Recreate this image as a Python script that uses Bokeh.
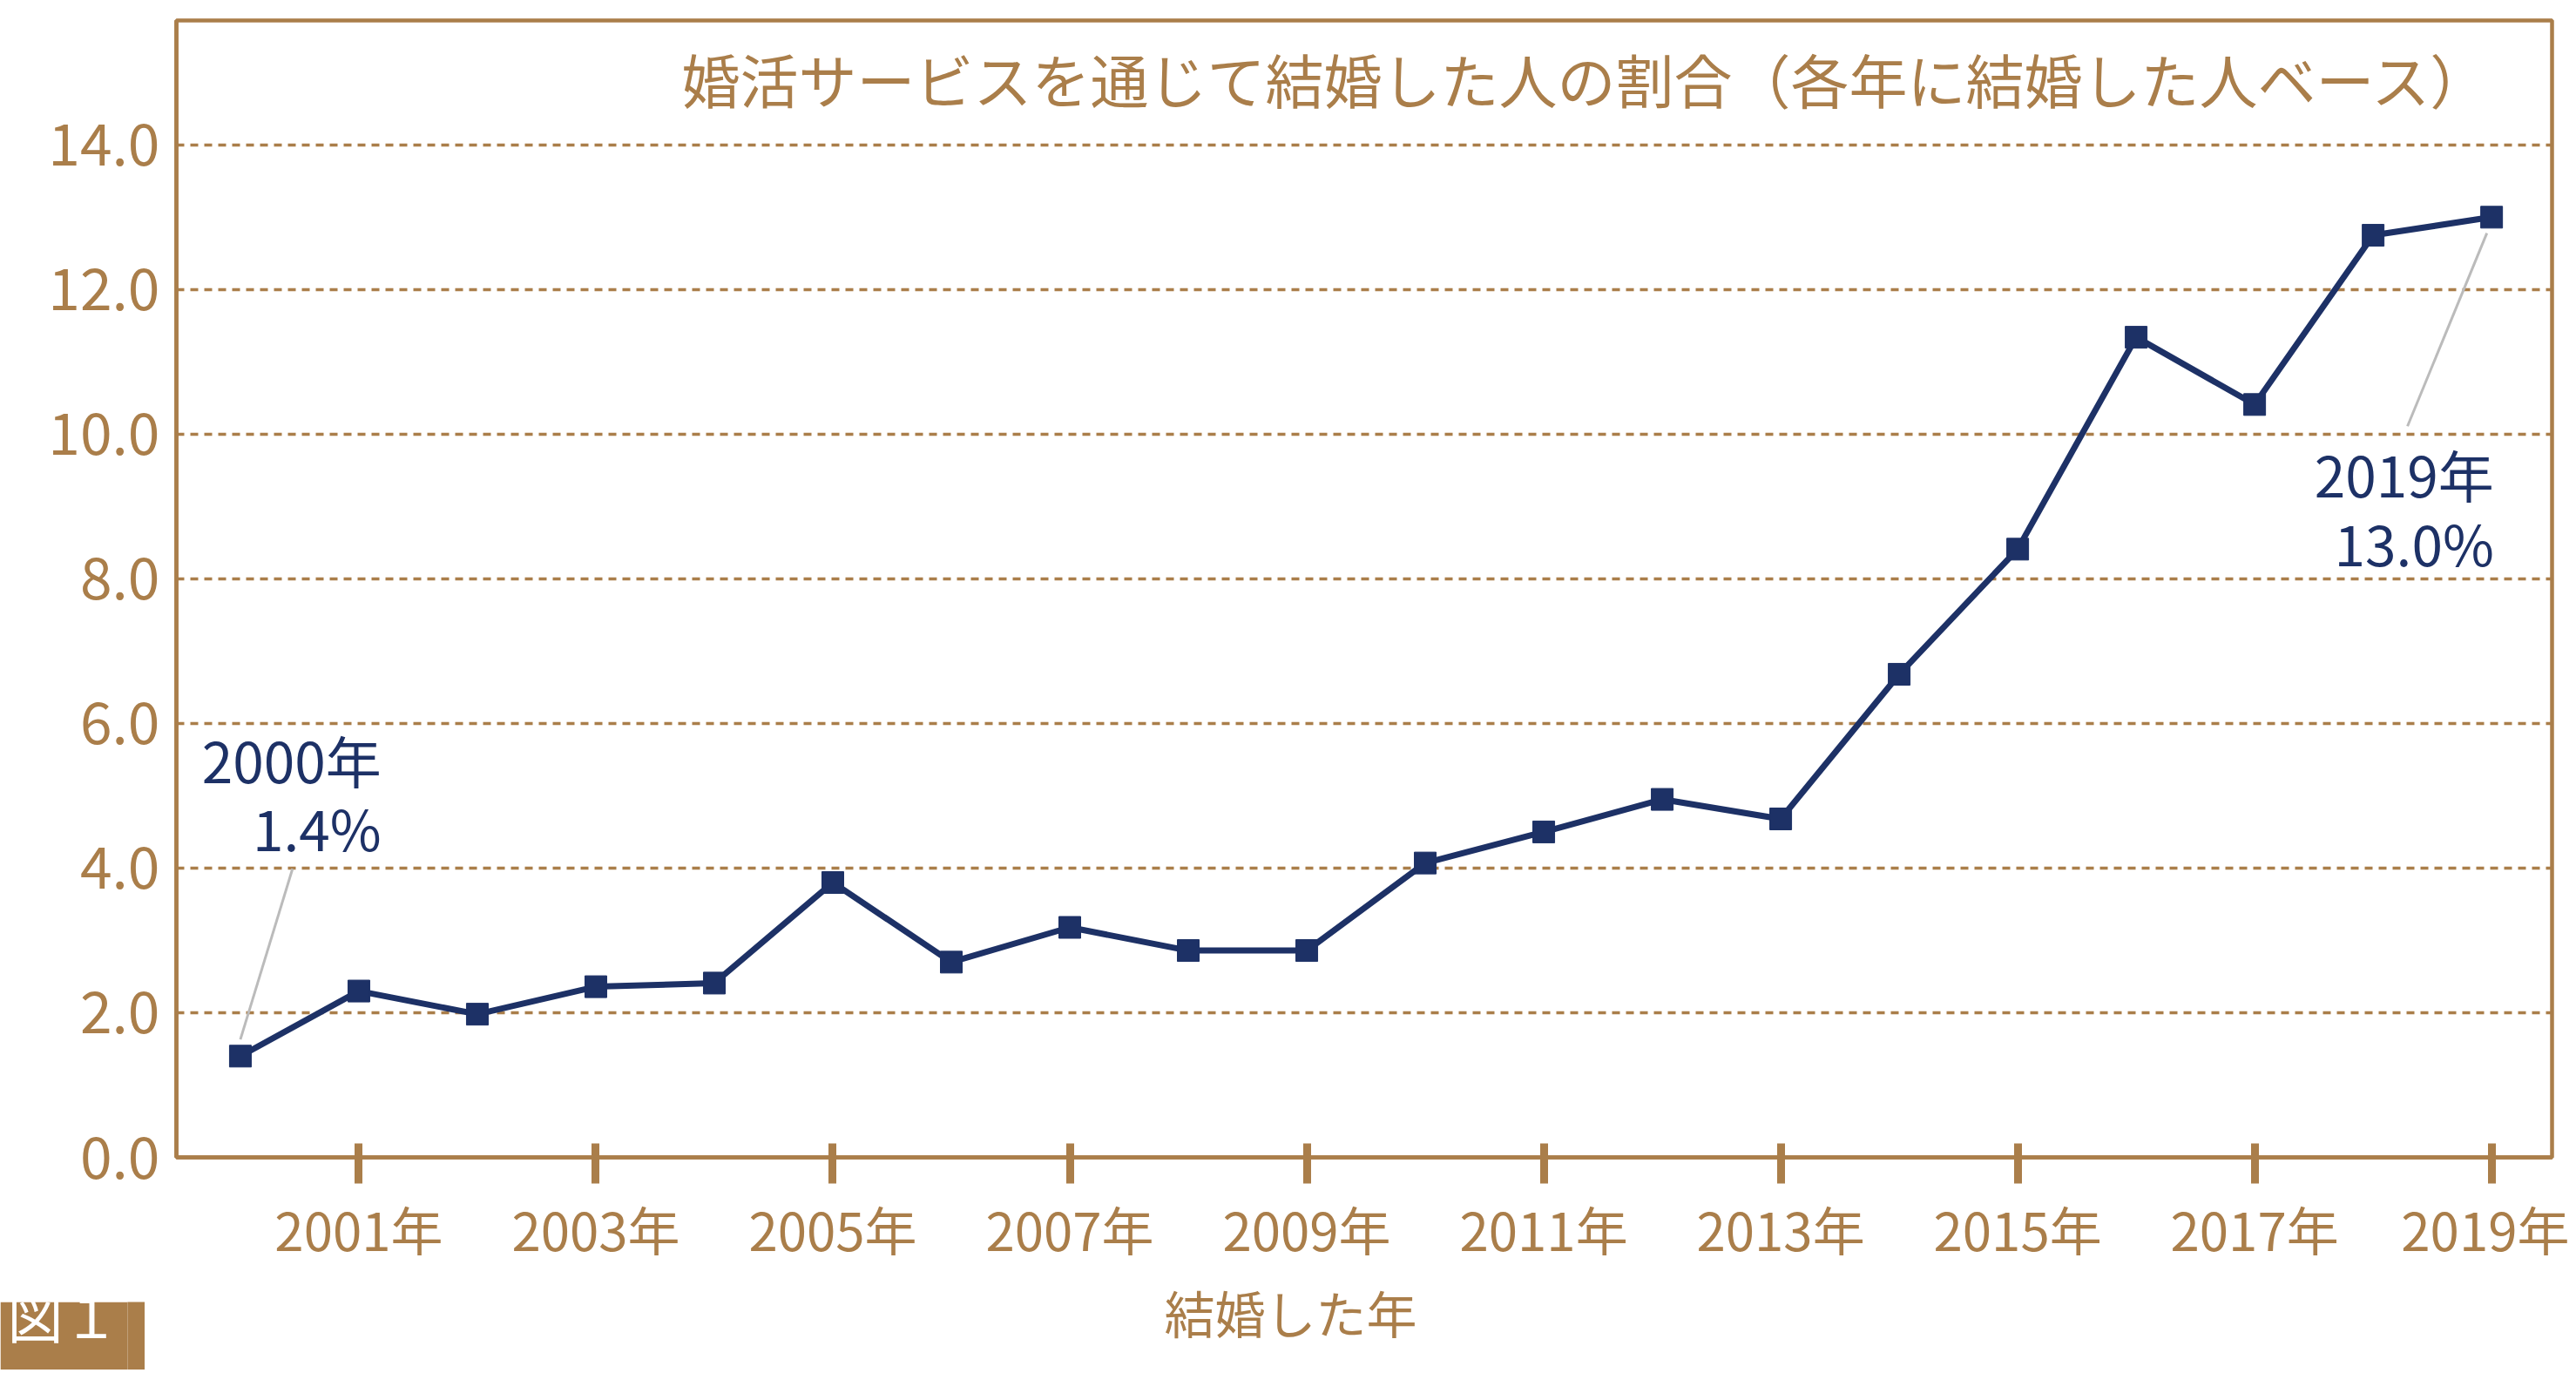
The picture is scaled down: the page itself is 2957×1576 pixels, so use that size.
from bokeh.plotting import figure
from bokeh.models import Range1d, FixedTicker, Label, Title, LinearAxis
from bokeh.layouts import column
from bokeh.core.properties import value
from bokeh.embed import file_html
from bokeh.resources import INLINE

# ---- data ----
years = [2000, 2001, 2002, 2003, 2004, 2005, 2006, 2007, 2008, 2009,
         2010, 2011, 2012, 2013, 2014, 2015, 2016, 2017, 2018, 2019]
shares = [1.4, 2.30, 1.98, 2.36, 2.41, 3.80, 2.70, 3.18, 2.86, 2.86,
          4.07, 4.50, 4.95, 4.68, 6.68, 8.41, 11.34, 10.41, 12.75, 13.0]

x_tick_years = [2001, 2003, 2005, 2007, 2009, 2011, 2013, 2015, 2017, 2019]
x_tick_labels = ["2001年", "2003年", "2005年", "2007年", "2009年",
                 "2011年", "2013年", "2015年", "2017年", "2019年"]
y_ticks = [0, 2, 4, 6, 8, 10, 12, 14]
y_tick_labels = ["0.0", "2.0", "4.0", "6.0", "8.0", "10.0", "12.0", "14.0"]

title_text = "婚活サービスを通じて結婚した人の割合（各年に結婚した人ベース）"
x_axis_title = "結婚した年"
figure_tag = "図１"

ann_years = [2000, 2019]
ann_values = [1.4, 13.0]
ann_year_text = ["2000年", "2019年"]
ann_value_text = ["1.4%", "13.0%"]

# ---- styles ----
BROWN = "#AA7E4A"
NAVY = "#1D3166"
GRAY = "#BBBBBB"
FONT = "Noto Sans CJK JP"

p = figure(frame_width=2727, frame_height=1305,
           min_border_left=202, min_border_right=20,
           min_border_top=23, min_border_bottom=244,
           x_range=Range1d(1999.46, 2019.51), y_range=Range1d(0, 15.72),
           output_backend="svg", toolbar_location=None)

p.background_fill_color = "white"
p.border_fill_color = "white"
p.outline_line_color = BROWN
p.outline_line_width = 4.5
p.outline_line_alpha = 1.0

# x axis
xa = p.xaxis[0]
xa.ticker = FixedTicker(ticks=x_tick_years)
xa.major_label_overrides = {y: t for y, t in zip(x_tick_years, x_tick_labels)}
xa.axis_line_color = BROWN
xa.axis_line_width = 4.5
xa.major_tick_line_color = BROWN
xa.major_tick_line_width = 9
xa.major_tick_in = 16
xa.major_tick_out = 30
xa.minor_tick_line_color = None
xa.major_label_text_font = FONT
xa.major_label_text_font_size = "60px"
xa.major_label_text_color = BROWN
xa.major_label_standoff = 7

# y axis
ya = p.yaxis[0]
ya.ticker = FixedTicker(ticks=y_ticks)
ya.major_label_overrides = {v: t for v, t in zip(y_ticks, y_tick_labels)}
ya.axis_line_color = BROWN
ya.axis_line_width = 4.5
ya.major_tick_in = 0
ya.major_tick_out = 0
ya.minor_tick_line_color = None
ya.major_label_text_font = FONT
ya.major_label_text_font_size = "66px"
ya.major_label_text_color = BROWN
ya.major_label_standoff = 19

p.xgrid.grid_line_color = None
p.ygrid.grid_line_color = BROWN
p.ygrid.grid_line_width = 3.5
p.ygrid.grid_line_dash = "9 7"

# x-axis title, placed below the axis
p.add_layout(Title(text=x_axis_title, align="left", offset=1134,
                   text_font=FONT, text_font_size="58px", text_color=BROWN,
                   text_font_style="normal", standoff=12), "below")

# leader lines (offsets from annotated points)
lead_start = [(0.0, 0.23), (-0.04, -0.22)]
lead_end = [(0.44, 2.59), (-0.71, -2.89)]
p.segment(x0=[x + o[0] for x, o in zip(ann_years, lead_start)],
          y0=[v + o[1] for v, o in zip(ann_values, lead_start)],
          x1=[x + o[0] for x, o in zip(ann_years, lead_end)],
          y1=[v + o[1] for v, o in zip(ann_values, lead_end)],
          line_color=GRAY, line_width=3)

# series
p.line(years, shares, line_color=NAVY, line_width=7)
p.scatter(years, shares, marker="square", size=25, fill_color=NAVY, line_color=NAVY)

# annotation texts
txt_dx = [1.19, 0.02]
line1_dy = [4.11, -3.54]
line2_dy = [3.17, -4.49]
p.text(x=[x + d for x, d in zip(ann_years, txt_dx)],
       y=[v + d for v, d in zip(ann_values, line1_dy)],
       text=ann_year_text, text_align="right", text_baseline="middle",
       text_font=value(FONT), text_font_size="64px", text_color=NAVY)
p.text(x=[x + d for x, d in zip(ann_years, txt_dx)],
       y=[v + d for v, d in zip(ann_values, line2_dy)],
       text=ann_value_text, text_align="right", text_baseline="middle",
       text_font=value(FONT), text_font_size="64px", text_color=NAVY)

# chart title inside frame
p.add_layout(Label(x=2011.36, y=14.92, text=title_text, text_align="center",
                   text_baseline="middle", text_font=FONT, text_font_size="67px",
                   text_color=BROWN))

# figure tag box: a small brown figure pulled up into the bottom-left corner;
# its text is drawn as the single tick label of a left axis
tag_tick = [27]
tag = figure(width=166, height=78,
             x_range=Range1d(0, 1), y_range=Range1d(0, 78),
             x_axis_type=None, y_axis_type=None, title=None,
             min_border_left=158, min_border_right=0, min_border_top=0, min_border_bottom=0,
             output_backend="svg", toolbar_location=None,
             background_fill_color=BROWN, border_fill_color=BROWN,
             outline_line_color=None, margin=(-78, 0, 0, 0))
tag.xgrid.grid_line_color = None
tag.ygrid.grid_line_color = None
tag_axis = LinearAxis(ticker=FixedTicker(ticks=tag_tick),
                      major_label_overrides={tag_tick[0]: figure_tag},
                      axis_line_color=None, major_tick_line_color=None,
                      minor_tick_line_color=None, major_tick_in=0, major_tick_out=0,
                      major_label_standoff=10, major_label_text_font=FONT,
                      major_label_text_font_size="64px", major_label_text_color="white")
tag.add_layout(tag_axis, "left")

layout = column(p, tag, spacing=0)
open("out.html", "w").write(file_html(layout, INLINE))
